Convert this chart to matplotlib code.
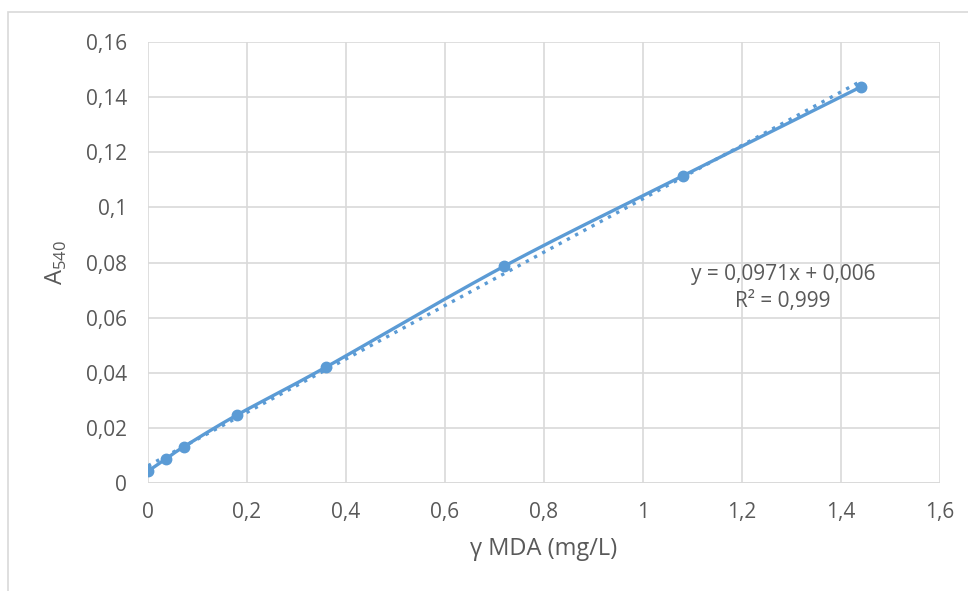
import numpy as np
import matplotlib.pyplot as plt
from matplotlib.patches import Rectangle

# concentration of MDA (mg/L) and absorbance at 540 nm
conc = np.array([0, 0.036, 0.072, 0.18, 0.36, 0.72, 1.08, 1.44])
absorb = np.array([0.0043, 0.0087, 0.0131, 0.0247, 0.0421, 0.0787, 0.1114, 0.1437])

xticks = [0, 0.2, 0.4, 0.6, 0.8, 1, 1.2, 1.4, 1.6]
yticks = [0, 0.02, 0.04, 0.06, 0.08, 0.1, 0.12, 0.14, 0.16]

blue = '#5B9BD5'
txt = '#595959'
grid = '#D9D9D9'

plt.rcParams['font.family'] = ['Open Sans', 'DejaVu Sans']


def fmt(v):
    s = ('%.2f' % v).rstrip('0').rstrip('.')
    return s.replace('.', ',')


def smooth(x, y, n=30):
    # catmull-rom, roughly what Excel does for "smoothed line"
    px = np.concatenate([[2 * x[0] - x[1]], x, [2 * x[-1] - x[-2]]])
    py = np.concatenate([[2 * y[0] - y[1]], y, [2 * y[-1] - y[-2]]])
    xs, ys = [], []
    t = np.linspace(0, 1, n)
    for i in range(1, len(px) - 2):
        for p, out in ((px, xs), (py, ys)):
            p0, p1, p2, p3 = p[i - 1], p[i], p[i + 1], p[i + 2]
            out.extend(0.5 * ((2 * p1) + (-p0 + p2) * t
                              + (2 * p0 - 5 * p1 + 4 * p2 - p3) * t ** 2
                              + (-p0 + 3 * p1 - 3 * p2 + p3) * t ** 3))
    return np.array(xs), np.array(ys)


fig = plt.figure(figsize=(9.68, 5.91), dpi=100)
fig.patches.append(Rectangle((8 / 968, -0.1), 1.1, (591 - 12) / 591 + 0.1,
                             transform=fig.transFigure, fill=False,
                             edgecolor=grid, lw=1.2))
ax = fig.add_axes([148 / 968, 108 / 591, (940 - 148) / 968, (483 - 42) / 591])

sx, sy = smooth(conc, absorb)
ax.plot(sx, sy, color=blue, lw=2.4, zorder=3)
ax.plot(conc, absorb, 'o', color=blue, ms=7.5, zorder=4)

k, b = np.polyfit(conc, absorb, 1)
tx = np.array([conc[0], conc[-1]])
ax.plot(tx, k * tx + b, color=blue, lw=2.4, ls=(0, (1, 1.8)), zorder=2)

ax.text(1.283, 0.0758, 'y = 0,0971x + 0,006', ha='center', va='center',
        fontsize=15, color=txt)
ax.text(1.283, 0.0660, 'R² = 0,999', ha='center', va='center',
        fontsize=15, color=txt)

ax.set_xlim(0, 1.6)
ax.set_ylim(0, 0.16)
ax.set_xticks(xticks)
ax.set_yticks(yticks)
ax.set_xticklabels([fmt(v) for v in xticks])
ax.set_yticklabels([fmt(v) for v in yticks])
ax.tick_params(length=0, labelsize=15, labelcolor=txt)
ax.tick_params(axis='x', pad=14)
ax.tick_params(axis='y', pad=15)
ax.grid(color=grid, lw=1.2)
ax.set_axisbelow(True)
for s in ax.spines.values():
    s.set_visible(False)
ax.axhline(0, color=grid, lw=1.2, zorder=1)

ax.set_xlabel('γ MDA (mg/L)', fontsize=17, color=txt, labelpad=10)
ax.set_ylabel(r'A$_{\mathregular{540}}$', fontsize=17, color=txt, labelpad=12)

fig.savefig('out.png', dpi=100)
